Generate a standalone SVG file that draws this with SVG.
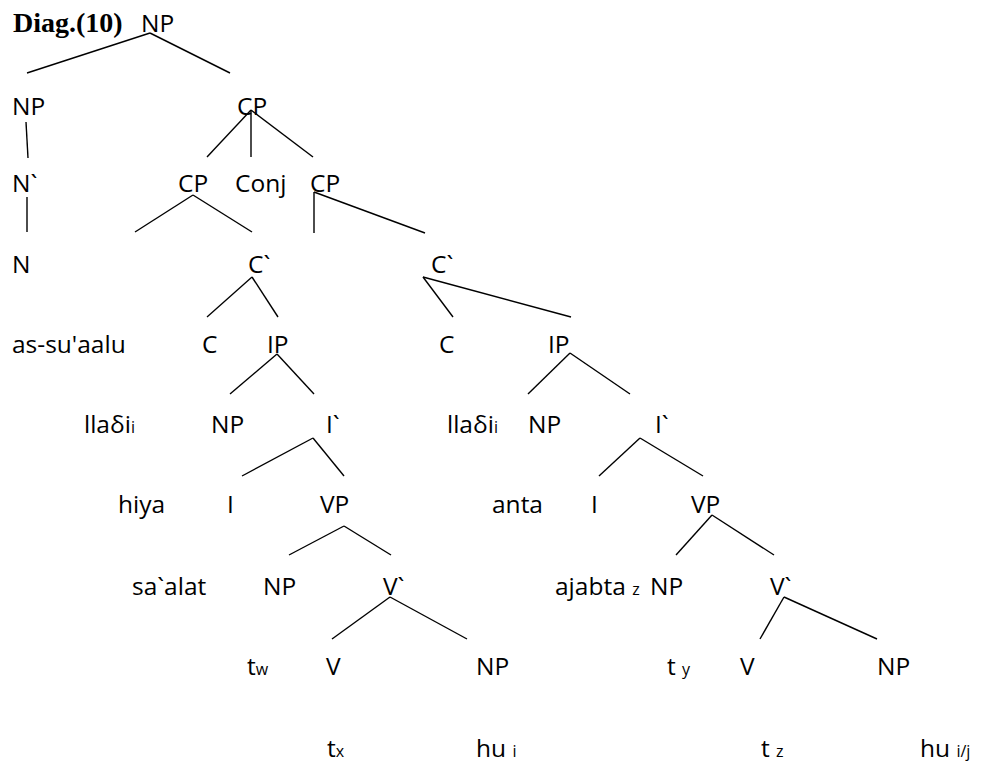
<svg xmlns="http://www.w3.org/2000/svg" width="983" height="767" viewBox="0 0 983 767">
<style>
text{font-family:"Open Sans","Liberation Sans",sans-serif;font-size:24.5px;fill:#000}
.t{font-family:"Liberation Serif","Times New Roman",serif;font-weight:bold;font-size:28px}
.s{font-size:16px}
#connectors line{stroke:#000;stroke-width:1.4;fill:none}
</style>
<rect width="983" height="767" fill="#fff"/>
<text class="t" x="13" y="32">Diag.(10)</text>
<g id="connectors">
<line x1="150" y1="33" x2="27" y2="73"/>
<line x1="150" y1="33" x2="230" y2="73"/>
<line x1="26" y1="122" x2="28" y2="158"/>
<line x1="251" y1="110" x2="207" y2="157"/>
<line x1="251" y1="110" x2="251" y2="157"/>
<line x1="251" y1="110" x2="313" y2="157"/>
<line x1="27" y1="197" x2="27" y2="232"/>
<line x1="193" y1="195" x2="135" y2="232"/>
<line x1="193" y1="195" x2="252" y2="232"/>
<line x1="314" y1="192" x2="314" y2="233"/>
<line x1="314" y1="192" x2="425" y2="233"/>
<line x1="252" y1="277" x2="207" y2="317"/>
<line x1="252" y1="277" x2="278" y2="317"/>
<line x1="423" y1="277" x2="453" y2="317"/>
<line x1="423" y1="277" x2="571" y2="317"/>
<line x1="277" y1="354" x2="230" y2="394"/>
<line x1="277" y1="354" x2="314" y2="394"/>
<line x1="570" y1="353" x2="528" y2="394"/>
<line x1="570" y1="353" x2="630" y2="394"/>
<line x1="313" y1="438" x2="242" y2="476"/>
<line x1="313" y1="438" x2="344" y2="476"/>
<line x1="640" y1="438" x2="599" y2="476"/>
<line x1="640" y1="438" x2="703" y2="476"/>
<line x1="344" y1="526" x2="289" y2="555"/>
<line x1="344" y1="526" x2="391" y2="555"/>
<line x1="712" y1="515" x2="676" y2="555"/>
<line x1="712" y1="515" x2="774" y2="555"/>
<line x1="390" y1="597" x2="332" y2="639"/>
<line x1="390" y1="597" x2="467" y2="639"/>
<line x1="784" y1="597" x2="760" y2="639"/>
<line x1="784" y1="597" x2="877" y2="639"/>
</g>
<g id="n-np-root"><text x="141" y="32">NP</text></g>
<g id="n-np1"><text x="12" y="115">NP</text></g>
<g id="n-cp1"><text x="237" y="115">CP</text></g>
<g id="n-nbar"><text x="12" y="192">N`</text></g>
<g id="n-cp2"><text x="178" y="192">CP</text></g>
<g id="n-conj"><text x="235" y="192">Conj</text></g>
<g id="n-cp3"><text x="310" y="192">CP</text></g>
<g id="n-n"><text x="12" y="273">N</text></g>
<g id="n-cbar1"><text x="248" y="273">C`</text></g>
<g id="n-cbar2"><text x="431" y="273">C`</text></g>
<g id="n-assuaalu"><text x="12" y="353">as-su'aalu</text></g>
<g id="n-c1"><text x="202" y="353">C</text></g>
<g id="n-ip1"><text x="267" y="353">IP</text></g>
<g id="n-c2"><text x="439" y="353">C</text></g>
<g id="n-ip2"><text x="548" y="353">IP</text></g>
<g id="n-lladi1"><text x="84" y="433">llaδi<tspan class="s">i</tspan></text></g>
<g id="n-np2"><text x="211" y="433">NP</text></g>
<g id="n-ibar1"><text x="326" y="433">I`</text></g>
<g id="n-lladi2"><text x="447" y="433">llaδi<tspan class="s">i</tspan></text></g>
<g id="n-np3"><text x="528" y="433">NP</text></g>
<g id="n-ibar2"><text x="655" y="433">I`</text></g>
<g id="n-hiya"><text x="118" y="513">hiya</text></g>
<g id="n-i1"><text x="227" y="513">I</text></g>
<g id="n-vp1"><text x="320" y="513">VP</text></g>
<g id="n-anta"><text x="492" y="513">anta</text></g>
<g id="n-i2"><text x="591" y="513">I</text></g>
<g id="n-vp2"><text x="691" y="513">VP</text></g>
<g id="n-saalat"><text x="132" y="595">sa`alat</text></g>
<g id="n-np4"><text x="263" y="595">NP</text></g>
<g id="n-vbar1"><text x="383" y="595">V`</text></g>
<g id="n-ajabta"><text x="555" y="595">ajabta <tspan class="s">z</tspan></text></g>
<g id="n-np5"><text x="650" y="595">NP</text></g>
<g id="n-vbar2"><text x="770" y="595">V`</text></g>
<g id="n-tw"><text x="247" y="675">t<tspan class="s">w</tspan></text></g>
<g id="n-v1"><text x="326" y="675">V</text></g>
<g id="n-np6"><text x="476" y="675">NP</text></g>
<g id="n-ty"><text x="667" y="675">t <tspan class="s">y</tspan></text></g>
<g id="n-v2"><text x="740" y="675">V</text></g>
<g id="n-np7"><text x="877" y="675">NP</text></g>
<g id="n-tx"><text x="327" y="757">t<tspan class="s">x</tspan></text></g>
<g id="n-hui"><text x="476" y="757">hu <tspan class="s">i</tspan></text></g>
<g id="n-tz"><text x="761" y="757">t <tspan class="s">z</tspan></text></g>
<g id="n-huij"><text x="920" y="757">hu <tspan class="s">i/j</tspan></text></g>
</svg>
